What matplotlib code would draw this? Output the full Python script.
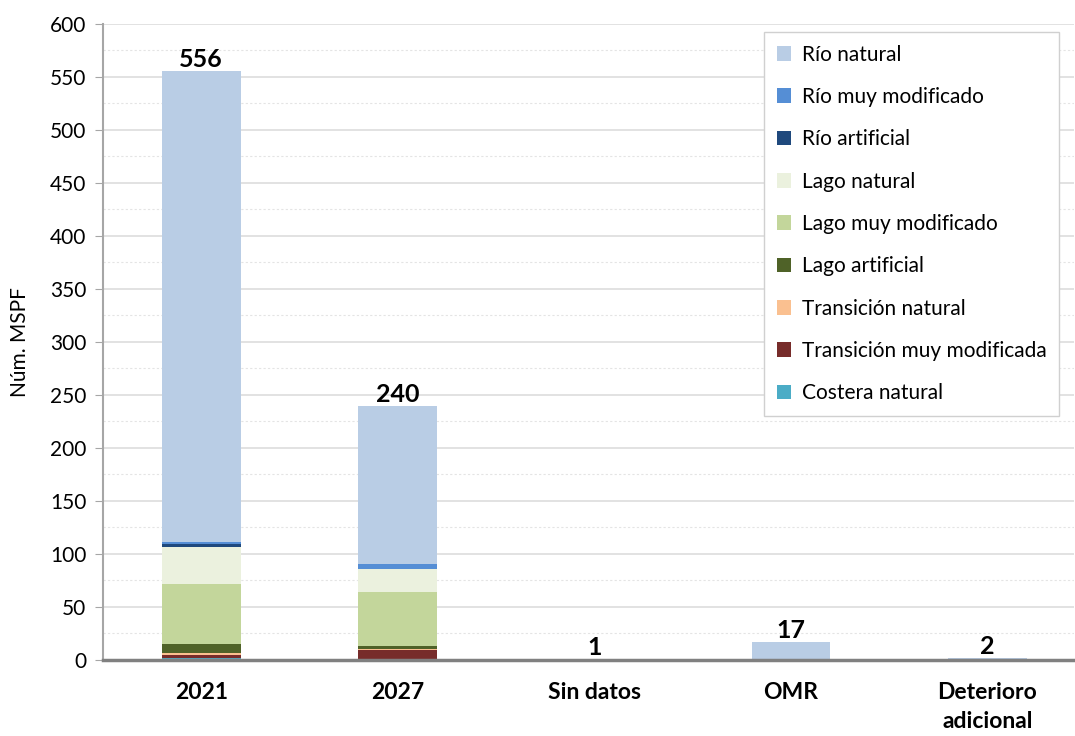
import matplotlib
matplotlib.use("Agg")
import matplotlib.pyplot as plt
from matplotlib.ticker import MultipleLocator
import numpy as np

plt.rcParams['font.family'] = ['Lato', 'DejaVu Sans']

categories = ["2021", "2027", "Sin datos", "OMR", "Deterioro\nadicional"]

# Series listed as in the legend (top to bottom); stacked from the last one upward
series = ["Río natural", "Río muy modificado", "Río artificial", "Lago natural",
          "Lago muy modificado", "Lago artificial", "Transición natural",
          "Transición muy modificada", "Costera natural"]
colors = ["#B9CDE5", "#558ED5", "#1F497D", "#EBF1DE", "#C3D69B", "#4F6228",
          "#FAC090", "#772C2A", "#4BACC6"]

rio_natural = [445, 149, 0, 17, 2]
rio_muy_modificado = [2, 5, 0, 0, 0]
rio_artificial = [2, 0, 0, 0, 0]
lago_natural = [35, 22, 0, 0, 0]
lago_muy_modificado = [57, 51, 0, 0, 0]
lago_artificial = [8, 3, 0, 0, 0]
transicion_natural = [2, 1, 0, 0, 0]
transicion_muy_modificada = [3, 9, 1, 0, 0]
costera_natural = [2, 0, 0, 0, 0]

values = [rio_natural, rio_muy_modificado, rio_artificial, lago_natural,
          lago_muy_modificado, lago_artificial, transicion_natural,
          transicion_muy_modificada, costera_natural]

fig = plt.figure(figsize=(10.75, 7.36), dpi=100)
ax = fig.add_axes([0.0958, 0.1033, 0.9032, 0.8641])

x = np.arange(len(categories))
bottom = np.zeros(len(categories))
handles = {}
for name, col, vals in reversed(list(zip(series, colors, values))):
    vals = np.array(vals, dtype=float)
    h = ax.bar(x, vals, 0.4, bottom=bottom, color=col, label=name, zorder=3)
    handles[name] = h
    bottom += vals

totals = bottom
for xi, t in zip(x, totals):
    ax.annotate(f"{int(t)}", (xi, t), xytext=(0, 0), textcoords="offset points",
                ha="center", va="bottom", fontsize=18, fontweight="bold", zorder=5)

ax.set_xlim(-0.5, 4.44)
ax.set_ylim(0, 600)
ax.yaxis.set_major_locator(MultipleLocator(50))
ax.yaxis.set_minor_locator(MultipleLocator(25))
ax.grid(axis="y", which="major", color="#DDDDDD", linewidth=1.2, zorder=0)
ax.grid(axis="y", which="minor", color="#E4E4E4", linewidth=0.8,
        linestyle=(0, (2, 2)), zorder=0)
ax.set_axisbelow(True)

ax.set_xticks(x)
ax.set_xticklabels(categories, fontsize=16.5, fontweight="bold", linespacing=1.45)
ax.tick_params(axis="x", length=0, pad=16)
ax.tick_params(axis="y", which="major", length=6, color="#A6A6A6",
               labelsize=15, direction="out", pad=6)
ax.tick_params(axis="y", which="minor", length=0)

for s in ["top", "right"]:
    ax.spines[s].set_visible(False)
ax.spines["left"].set_color("#A6A6A6")
ax.spines["left"].set_linewidth(1.5)
ax.spines["bottom"].set_color("#808080")
ax.spines["bottom"].set_linewidth(2.5)
ax.spines["bottom"].set_zorder(4)

ax.set_ylabel("Núm. MSPF", fontsize=15, labelpad=14)

leg = ax.legend([handles[n] for n in series], series, loc="upper left",
                bbox_to_anchor=(0.681, 0.987), fontsize=15, frameon=True,
                fancybox=False, edgecolor="#D0D0D0", framealpha=1,
                handlelength=0.7, handleheight=0.7, handletextpad=0.5,
                labelspacing=1.07, borderpad=0.6, borderaxespad=0)
leg.get_frame().set_linewidth(1.0)
leg.set_zorder(6)

fig.savefig("out.png", dpi=100)
